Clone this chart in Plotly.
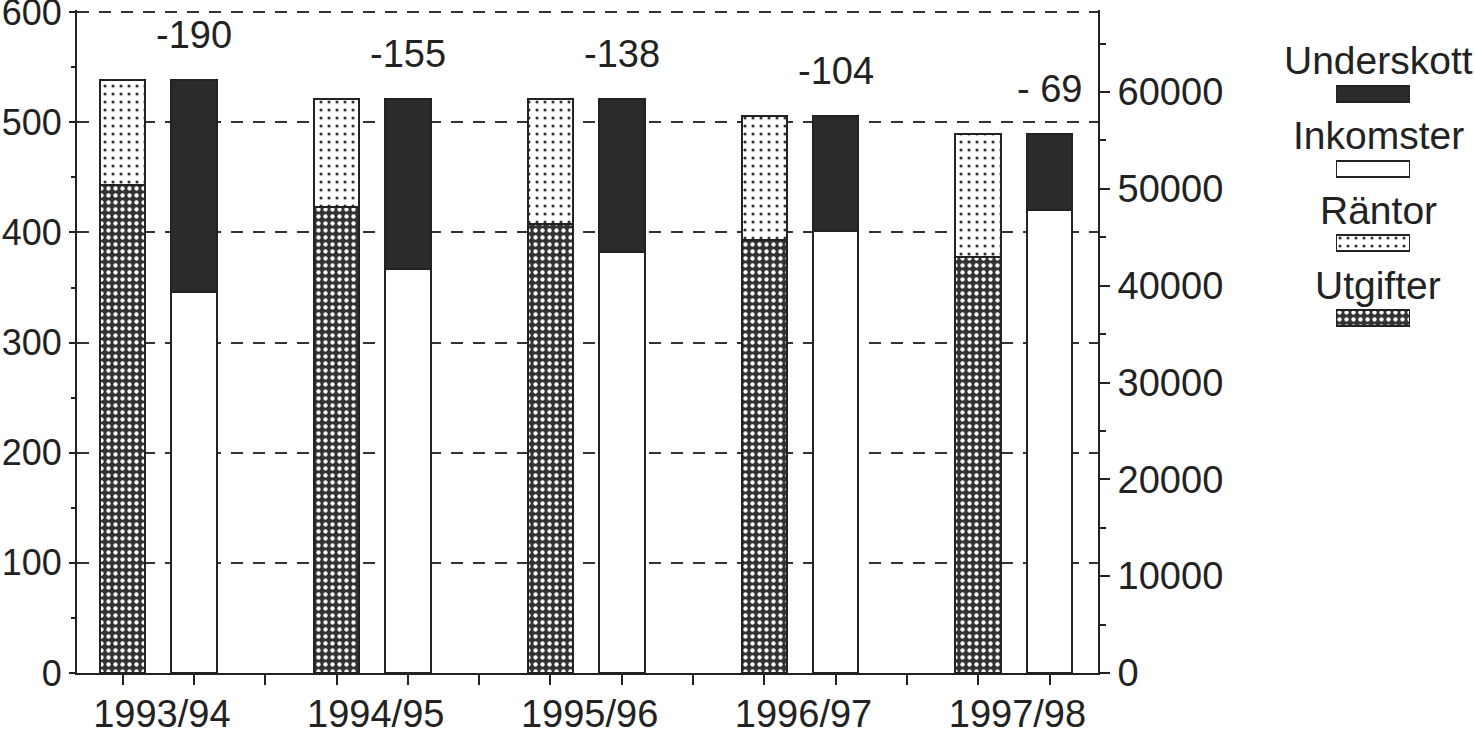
import plotly.graph_objects as go

# Statsbudget 1993/94 - 1997/98, miljarder kr (vänster skala)
years = ["1993/94", "1994/95", "1995/96", "1996/97", "1997/98"]
utgifter = [443, 423, 408, 393, 378]
rantor = [95, 98, 113, 113, 111]
inkomster = [346, 367, 382, 401, 420]
underskott = [192, 154, 139, 105, 69]
underskott_labels = ["-190", "-155", "-138", "-104", "- 69"]

left_ticks = [0, 100, 200, 300, 400, 500, 600]
right_ticks = [0, 10000, 20000, 30000, 40000, 50000, 60000]

legend_names = ["Underskott", "Inkomster", "Räntor", "Utgifter"]

FONT = "Liberation Sans, Arial, Helvetica, sans-serif"
INK = "#222222"

# each year takes three slots: utgifter-bar, inkomster-bar, gap
x_utg = [3 * i for i in range(len(years))]
x_ink = [3 * i + 1 for i in range(len(years))]
x_lab = [3 * i + 0.55 for i in range(len(years))]

styles = {
    "Underskott": dict(color="#2b2b2b", pattern=None),
    "Inkomster": dict(color="white", pattern=None),
    "Räntor": dict(color="white", pattern=dict(shape=".", bgcolor="white", fgcolor="#333333",
                                               size=8, solidity=0.12, fillmode="replace")),
    "Utgifter": dict(color="#333333", pattern=dict(shape=".", bgcolor="#333333", fgcolor="white",
                                                   size=7, solidity=0.3, fillmode="replace")),
}


def marker(name):
    s = styles[name]
    m = dict(color=s["color"], line=dict(color=INK, width=2))
    if s["pattern"]:
        m["pattern"] = s["pattern"]
    return m


BW = 0.64
fig = go.Figure()
fig.add_trace(go.Bar(x=x_utg, y=utgifter, width=BW, marker=marker("Utgifter"), name="Utgifter"))
fig.add_trace(go.Bar(x=x_utg, y=rantor, width=BW, marker=marker("Räntor"), name="Räntor"))
fig.add_trace(go.Bar(x=x_ink, y=inkomster, width=BW, marker=marker("Inkomster"), name="Inkomster"))
fig.add_trace(go.Bar(x=x_ink, y=underskott, width=BW, marker=marker("Underskott"), name="Underskott"))
# empty trace so the right-hand axis gets drawn
fig.add_trace(go.Scatter(x=[], y=[], yaxis="y2", showlegend=False, hoverinfo="skip"))

# legend swatches on their own little axis
for k, name in enumerate(legend_names):
    fig.add_trace(go.Bar(x=[1], y=[3 - k], orientation="h", width=0.214, marker=marker(name),
                         xaxis="x3", yaxis="y3", hoverinfo="skip"))
    fig.add_annotation(x=0.5, y=3 - k, xref="x3", yref="y3", text=name, showarrow=False,
                       yshift=33, xshift=5, font=dict(size=39, color=INK, family=FONT))

# deficit labels above the inkomster bars
for i in range(len(years)):
    fig.add_annotation(x=x_ink[i], y=inkomster[i] + underskott[i], text=underskott_labels[i],
                       showarrow=False, yshift=45, font=dict(size=38, color=INK, family=FONT))

W, H = 1475, 736
ML, MT, MB = 77, 10, 63
axis_dom = 1021 / (W - ML)
plot_h = H - MT - MB


def ydom(top, bottom):
    # page pixel rows -> paper fraction
    return [(673 - bottom) / plot_h, (673 - top) / plot_h]


fig.update_layout(
    width=W, height=H,
    margin=dict(l=ML, r=0, t=MT, b=MB, autoexpand=False),
    paper_bgcolor="white", plot_bgcolor="white",
    barmode="stack", showlegend=False, bargap=0,
    font=dict(family=FONT, size=38, color=INK),
    xaxis=dict(domain=[0, axis_dom], range=[-0.64, 13.68], tickmode="array",
               tickvals=x_lab, ticktext=years, ticks="", ticklabelstandoff=6, automargin=False,
               showline=True, linecolor=INK, linewidth=2, showgrid=False, zeroline=False,
               ticklabeloverflow="allow",
               minor=dict(tickmode="array", tickvals=list(range(14)), ticks="outside",
                          ticklen=10, tickwidth=2, tickcolor=INK, showgrid=False)),
    yaxis=dict(range=[0, 602], tickvals=left_ticks, ticks="outside", ticklen=6, tickwidth=2,
               tickcolor=INK, showline=True, linecolor=INK, linewidth=2, zeroline=False,
               automargin=False, ticklabeloverflow="allow", tickfont=dict(size=36),
               showgrid=True, gridcolor="#333333", gridwidth=2, griddash="12px,10px",
               minor=dict(dtick=50, ticks="outside", ticklen=4, tickwidth=2, tickcolor=INK,
                          showgrid=False)),
    yaxis2=dict(overlaying="y", side="right", anchor="x", range=[0, 68470],
                tickvals=right_ticks, tickformat="d", ticks="outside", ticklen=10, tickwidth=2,
                tickcolor=INK, showline=True, linecolor=INK, linewidth=2, showgrid=False,
                zeroline=False, automargin=False, ticklabeloverflow="allow",
                minor=dict(dtick=5000, ticks="outside", ticklen=6, tickwidth=2, tickcolor=INK,
                           showgrid=False)),
    xaxis3=dict(domain=[(1336 - ML) / (W - ML), (1410 - ML) / (W - ML)], range=[0, 1],
                visible=False, anchor="y3", fixedrange=True),
    yaxis3=dict(domain=ydom(50, 350), range=[-0.4286, 3.589],
                visible=False, anchor="x3", fixedrange=True),
)

# drop the browser's default body margin so the figure sits at the window corner
fig.write_html("out.html", config={"displayModeBar": False},
               post_script="document.body.style.margin='0';")
